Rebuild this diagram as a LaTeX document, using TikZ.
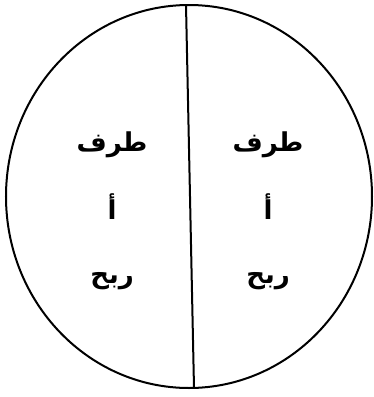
\documentclass[tikz,border=0pt]{standalone}
\usepackage{fontspec}
\newfontfamily\arabicfont[Script=Arabic]{DejaVu Sans}
\TeXXeTstate=1
\usepackage{tikz}
\usetikzlibrary{positioning}

\begin{document}
\begin{tikzpicture}[x=1pt, y=-1pt, node distance=34pt,
		word/.style={font=\arabicfont\bfseries\fontsize{26}{30}\selectfont, inner sep=0pt}]
		\useasboundingbox (0,0) rectangle (374,397);
		
		\draw[line width=2pt] (189,196.5) ellipse [x radius=183, y radius=191.5];
		\coordinate (top) at (186,5);
		\coordinate (bottom) at (194,388);
		\draw[line width=2pt] (top) -- (bottom);
		
		\node[word] (ltaraf) at (112,145) {\beginR طرف\endR};
		\node[word] (lalif) at (112,207) {\beginR أ\endR};
		\node[word] (lribh) at (112,281) {\beginR ربح\endR};
		\node[word] (rtaraf) at (268,145) {\beginR طرف\endR};
		\node[word] (ralif) at (268,207) {\beginR أ\endR};
		\node[word] (rribh) at (268,281) {\beginR ربح\endR};
	\end{tikzpicture}
\end{document}
